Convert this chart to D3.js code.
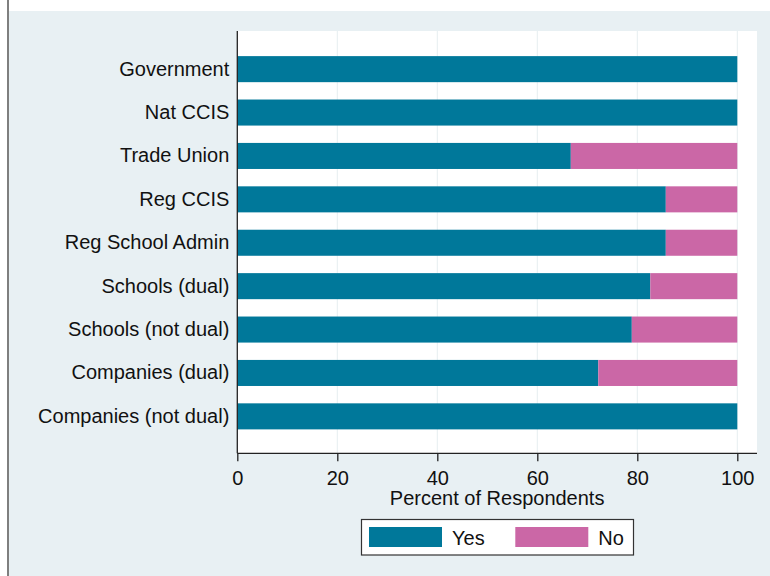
<!DOCTYPE html>
<html>
<head>
<meta charset="utf-8">
<script src="https://cdn.jsdelivr.net/npm/d3@7"></script>
<style>
html,body{margin:0;padding:0;background:#fff;}
svg{display:block;font-family:Arial,"Liberation Sans",Helvetica,sans-serif;}
</style>
</head>
<body>
<svg id="chart" width="770" height="576"></svg>
<script>
const categories = ["Government","Nat CCIS","Trade Union","Reg CCIS","Reg School Admin","Schools (dual)","Schools (not dual)","Companies (dual)","Companies (not dual)"];
const yesValues = [100, 100, 66.7, 85.7, 85.7, 82.6, 78.9, 72.2, 100];
const noValues  = [0, 0, 33.3, 14.3, 14.3, 17.4, 21.1, 27.8, 0];
const xTicks = [0, 20, 40, 60, 80, 100];
const seriesNames = ["Yes", "No"];
const seriesColors = ["#00789a", "#cb67a6"];

const svg = d3.select("#chart");
const W = 770, H = 576;
const FS = 20;

// outer background
svg.append("rect").attr("x",0).attr("y",0).attr("width",W).attr("height",H).attr("fill","#ffffff");
svg.append("rect").attr("x",9).attr("y",11).attr("width",W-9).attr("height",H-11).attr("fill","#e8f0f3");
svg.append("line").attr("x1",8).attr("x2",8).attr("y1",0).attr("y2",H).attr("stroke","#555").attr("stroke-width",1.5);

const plot = {left:237.3, right:757, top:31, bottom:453.3};
svg.append("rect").attr("x",plot.left).attr("y",plot.top)
  .attr("width",plot.right-plot.left).attr("height",plot.bottom-plot.top).attr("fill","#ffffff");

const x = d3.scaleLinear().domain([0,100]).range([plot.left, plot.left+500]);
const y = d3.scaleBand().domain(categories).range([plot.top+0.6, plot.bottom+0.6]).paddingInner(0.4).paddingOuter(0.565);

// gridlines
svg.append("g").selectAll("line").data(xTicks.filter(t=>t>0)).join("line")
  .attr("x1",d=>x(d)).attr("x2",d=>x(d)).attr("y1",plot.top).attr("y2",plot.bottom)
  .attr("stroke","#e6eef1").attr("stroke-width",1);

// stacked bars
const rows = categories.map((c,i)=>({cat:c, Yes:yesValues[i], No:noValues[i]}));
const stack = d3.stack().keys(seriesNames)(rows);
svg.append("g").selectAll("g").data(stack).join("g")
  .attr("fill",(d,i)=>seriesColors[i])
  .selectAll("rect").data(d=>d).join("rect")
  .attr("x",d=>x(d[0])).attr("width",d=>x(d[1])-x(d[0]))
  .attr("y",d=>y(d.data.cat)).attr("height",y.bandwidth());

// x axis
const xAxis = svg.append("g").attr("transform",`translate(0,${plot.bottom})`)
  .call(d3.axisBottom(x).tickValues(xTicks).tickSize(8).tickPadding(10).tickSizeOuter(0));
xAxis.select(".domain").remove();
xAxis.append("line").attr("x1",plot.left).attr("x2",plot.right).attr("y1",0).attr("y2",0)
  .attr("stroke","#222").attr("stroke-width",1.3);
xAxis.selectAll(".tick line").attr("stroke","#222").attr("stroke-width",1.3);
xAxis.selectAll(".tick text").attr("font-size",FS).attr("fill","#111")
  .attr("font-family","Arial, 'Liberation Sans', sans-serif");

// y axis
const yAxis = svg.append("g").attr("transform",`translate(${plot.left},0)`)
  .call(d3.axisLeft(y).tickSize(0).tickPadding(8));
yAxis.select(".domain").remove();
yAxis.append("line").attr("x1",0).attr("x2",0).attr("y1",plot.top).attr("y2",plot.bottom)
  .attr("stroke","#222").attr("stroke-width",1.3);
yAxis.selectAll(".tick text").attr("font-size",FS).attr("fill","#111")
  .attr("font-family","Arial, 'Liberation Sans', sans-serif");

// x title
svg.append("text").attr("x",(plot.left+plot.right)/2).attr("y",504.5)
  .attr("text-anchor","middle").attr("font-size",FS).attr("fill","#111")
  .text("Percent of Respondents");

// legend
const lg = svg.append("g");
lg.append("rect").attr("x",361.5).attr("y",519.5).attr("width",272).attr("height",35.5)
  .attr("fill","#ffffff").attr("stroke","#333").attr("stroke-width",1.2);
const legendX = [369, 515.3];
seriesNames.forEach((s,i)=>{
  lg.append("rect").attr("x",legendX[i]).attr("y",527).attr("width",73).attr("height",20).attr("fill",seriesColors[i]);
  lg.append("text").attr("x",legendX[i]+83).attr("y",544.5).attr("font-size",FS).attr("fill","#111").text(s);
});
</script>
</body>
</html>
